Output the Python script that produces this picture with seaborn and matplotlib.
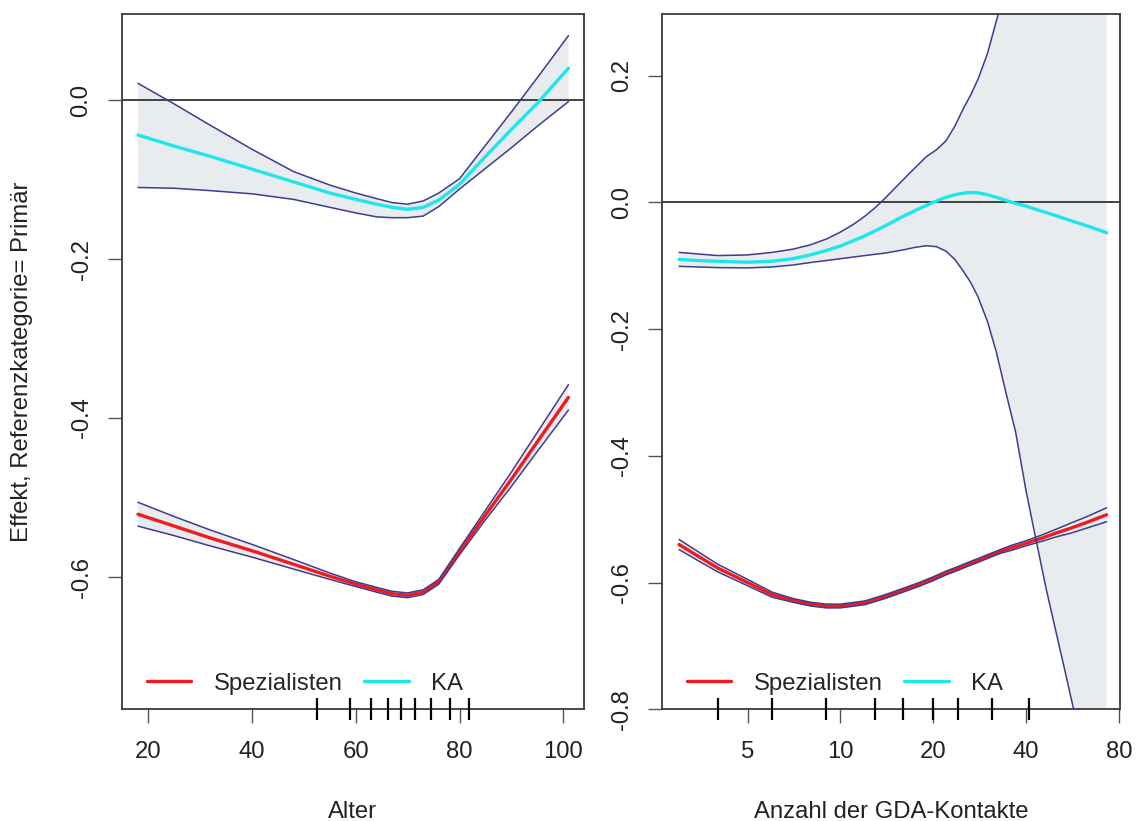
import matplotlib
matplotlib.use("Agg")
import matplotlib.pyplot as plt
import seaborn as sns
from matplotlib.lines import Line2D
from matplotlib.ticker import FixedLocator, FixedFormatter, NullLocator

# ---------------- data ----------------
# Left panel: Alter
alter = [18, 25, 32, 40, 48, 55, 60, 64, 67, 70, 73, 76, 80, 85, 90, 95, 101]
alter_ka = [-0.044, -0.058, -0.071, -0.087, -0.103, -0.117, -0.125, -0.131, -0.135,
            -0.1375, -0.135, -0.126, -0.106, -0.071, -0.037, -0.004, 0.040]
alter_ka_hi = [0.021, -0.005, -0.032, -0.062, -0.090, -0.107, -0.117, -0.124, -0.129,
               -0.131, -0.127, -0.117, -0.099, -0.057, -0.015, 0.028, 0.081]
alter_ka_lo = [-0.110, -0.111, -0.114, -0.118, -0.125, -0.135, -0.142, -0.147, -0.148,
               -0.148, -0.146, -0.134, -0.112, -0.086, -0.060, -0.033, -0.002]
alter_sp = [-0.521, -0.536, -0.551, -0.567, -0.584, -0.599, -0.609, -0.616, -0.621,
            -0.623, -0.619, -0.606, -0.568, -0.522, -0.477, -0.430, -0.374]
alter_sp_hi = [-0.506, -0.524, -0.541, -0.559, -0.578, -0.595, -0.606, -0.613, -0.618,
               -0.620, -0.616, -0.603, -0.564, -0.516, -0.468, -0.418, -0.358]
alter_sp_lo = [-0.536, -0.548, -0.561, -0.575, -0.590, -0.603, -0.612, -0.619, -0.624,
               -0.626, -0.622, -0.609, -0.572, -0.528, -0.486, -0.442, -0.390]
alter_rug = [52.5, 58.9, 62.9, 66.2, 68.8, 71.4, 74.5, 78.1, 81.9]
alter_ticks = [20, 40, 60, 80, 100]
alter_yticks = [-0.6, -0.4, -0.2, 0.0]

# Right panel: Anzahl der GDA-Kontakte (log axis)
gda = [3, 3.5, 4, 5, 6, 7, 8, 9, 10, 12, 14, 16, 18, 20, 22, 24, 26, 28, 30, 33, 36,
       40, 45, 50, 56, 63, 73]
gda_ka = [-0.090, -0.092, -0.093, -0.0945, -0.093, -0.089, -0.083, -0.076, -0.069,
          -0.053, -0.037, -0.022, -0.010, 0.000, 0.008, 0.013, 0.0155, 0.015, 0.012,
          0.006, 0.000, -0.006, -0.014, -0.021, -0.029, -0.037, -0.048]
gda_sp = [-0.540, -0.560, -0.577, -0.600, -0.619, -0.628, -0.634, -0.637, -0.637,
          -0.632, -0.622, -0.612, -0.603, -0.594, -0.585, -0.578, -0.571, -0.565,
          -0.559, -0.551, -0.545, -0.538, -0.530, -0.522, -0.514, -0.505, -0.493]
gda_sp_hi = [-0.532, -0.553, -0.571, -0.595, -0.615, -0.625, -0.631, -0.634, -0.634,
             -0.629, -0.619, -0.609, -0.600, -0.591, -0.582, -0.575, -0.568, -0.562,
             -0.556, -0.548, -0.541, -0.534, -0.525, -0.516, -0.506, -0.496, -0.482]
gda_sp_lo = [-0.548, -0.567, -0.583, -0.605, -0.623, -0.631, -0.637, -0.640, -0.640,
             -0.635, -0.625, -0.615, -0.606, -0.597, -0.588, -0.581, -0.574, -0.568,
             -0.562, -0.554, -0.549, -0.542, -0.535, -0.528, -0.522, -0.514, -0.504]
# KA confidence band (right) read on its own, denser x positions
gda_hi_x = [3, 4, 5, 6, 7, 8, 9, 10, 11, 12, 13, 14, 15, 16, 17.5, 19, 20.5, 22, 23.5,
            25, 26.5, 28, 30, 32, 34, 37, 40, 45, 50, 60, 73]
gda_ka_hi = [-0.079, -0.084, -0.083, -0.079, -0.074, -0.067, -0.058, -0.047, -0.035,
             -0.022, -0.008, 0.007, 0.022, 0.036, 0.055, 0.072, 0.083, 0.097, 0.120,
             0.147, 0.170, 0.195, 0.235, 0.285, 0.33, 0.42, 0.52, 0.72, 0.95, 1.4, 2.0]
gda_lo_x = [3, 4, 5, 6, 7, 8, 10, 12, 14, 16, 17.5, 19, 20.5, 22, 23.5, 25, 26.5, 28,
            30, 32, 34.5, 37, 40, 43, 46.5, 50, 54, 58, 65, 73]
gda_ka_lo = [-0.101, -0.103, -0.1035, -0.102, -0.099, -0.095, -0.089, -0.084, -0.080,
             -0.075, -0.071, -0.0685, -0.070, -0.077, -0.090, -0.108, -0.127, -0.150,
             -0.188, -0.235, -0.302, -0.362, -0.455, -0.530, -0.610, -0.677, -0.748,
             -0.815, -0.93, -1.08]
gda_rug = [4, 6, 9, 13, 16, 20, 24, 31, 41]
gda_ticks = [5, 10, 20, 40, 80]
gda_yticks = [-0.8, -0.6, -0.4, -0.2, 0.0, 0.2]

series_names = ["Spezialisten", "KA"]
ylabel = "Effekt, Referenzkategorie= Primär"
xlabels = ["Alter", "Anzahl der GDA-Kontakte"]

# ---------------- style ----------------
RED = "#F21A1A"
CYAN = "#1EE6EA"
CI = "#3E3C8E"
FILL = "#E9ECEE"
AXC = "#3A3A3A"
TXT = "#222222"
FS = 17.2

sns.set_style("white")
plt.rcParams["font.family"] = ["Liberation Sans", "DejaVu Sans"]
plt.rcParams["font.size"] = FS

W, H = 1136, 821
fig = plt.figure(figsize=(W / 100, H / 100), dpi=100)
top_px, bot_px = 14, 709.3
axL = fig.add_axes([121.7 / W, (H - bot_px) / H, (584.0 - 121.7) / W, (bot_px - top_px) / H])
axR = fig.add_axes([662.0 / W, (H - bot_px) / H, (1120.0 - 662.0) / W, (bot_px - top_px) / H])


def band(ax, xlo, ylo, xhi, yhi):
    # polygon between upper and lower confidence limits
    xs = list(xhi) + list(xlo)[::-1]
    ys = list(yhi) + list(ylo)[::-1]
    ax.fill(xs, ys, color=FILL, lw=0, zorder=1)


def draw_panel(ax, x, ka, xlo, ka_lo, xhi, ka_hi, sp, sp_lo, sp_hi, rug):
    band(ax, xlo, ka_lo, xhi, ka_hi)
    band(ax, x, sp_lo, x, sp_hi)
    ax.axhline(0, color="#333333", lw=1.3, zorder=2)
    sns.lineplot(x=x, y=sp, ax=ax, color=RED, lw=2.4, estimator=None, sort=False, zorder=3)
    sns.lineplot(x=x, y=ka, ax=ax, color=CYAN, lw=2.4, estimator=None, sort=False, zorder=3)
    for xx, yy in ((xhi, ka_hi), (xlo, ka_lo), (x, sp_hi), (x, sp_lo)):
        sns.lineplot(x=xx, y=yy, ax=ax, color=CI, lw=1.1, estimator=None, sort=False, zorder=4)
    ax.vlines(rug, -0.016, 0.016, transform=ax.get_xaxis_transform(), color="black",
              lw=1.6, clip_on=False, zorder=6)
    for sp_ in ax.spines.values():
        sp_.set_visible(True)
        sp_.set_color(AXC)
        sp_.set_linewidth(1.3)
    ax.tick_params(axis="both", direction="out", length=10, width=1.0, color="#555555",
                   labelsize=FS, labelcolor=TXT, bottom=True, left=True)
    ax.tick_params(axis="x", pad=12.5)
    ax.tick_params(axis="y", pad=11)
    handles = [Line2D([], [], color=RED, lw=2.4), Line2D([], [], color=CYAN, lw=2.4)]
    ax.legend(handles, series_names, loc="lower left", bbox_to_anchor=(0.055, 0.021),
              ncol=2, frameon=False, fontsize=FS, handlelength=1.85, handletextpad=0.95,
              columnspacing=0.9, borderpad=0, borderaxespad=0)
    ax.set_ylabel("")


draw_panel(axL, alter, alter_ka, alter, alter_ka_lo, alter, alter_ka_hi,
           alter_sp, alter_sp_lo, alter_sp_hi, alter_rug)
draw_panel(axR, gda, gda_ka, gda_lo_x, gda_ka_lo, gda_hi_x, gda_ka_hi,
           gda_sp, gda_sp_lo, gda_sp_hi, gda_rug)

# left axis scales
axL.set_xlim(14.86, 104.0)
axL.set_ylim(-0.7664, 0.1082)
axL.set_xticks(alter_ticks)
axL.set_xticklabels([str(t) for t in alter_ticks])
axL.set_yticks(alter_yticks)
axL.set_yticklabels([f"{t:.1f}" for t in alter_yticks])

# right axis scales
axR.set_xscale("log")
axR.set_xlim(2.64, 80.7)
axR.set_ylim(-0.7978, 0.2972)
axR.xaxis.set_major_locator(FixedLocator(gda_ticks))
axR.xaxis.set_major_formatter(FixedFormatter([str(t) for t in gda_ticks]))
axR.xaxis.set_minor_locator(NullLocator())
axR.set_yticks(gda_yticks)
axR.set_yticklabels([f"{t:.1f}" for t in gda_yticks])

for ax in (axL, axR):
    for lab in ax.get_yticklabels():
        lab.set_rotation(90)
        lab.set_va("center")

for ax, lab in zip((axL, axR), xlabels):
    ax.set_xlabel(lab, fontsize=FS, color=TXT)
    ax.xaxis.set_label_coords(0.5, (bot_px - 811.7) / (bot_px - top_px))
    ax.xaxis.label.set_va("center")

axL.set_ylabel(ylabel, fontsize=FS, color=TXT)
axL.yaxis.set_label_coords((22 - 121.7) / (584.0 - 121.7), 0.5)
axL.yaxis.label.set_va("center")

fig.savefig("out.png", dpi=100, facecolor="white")
